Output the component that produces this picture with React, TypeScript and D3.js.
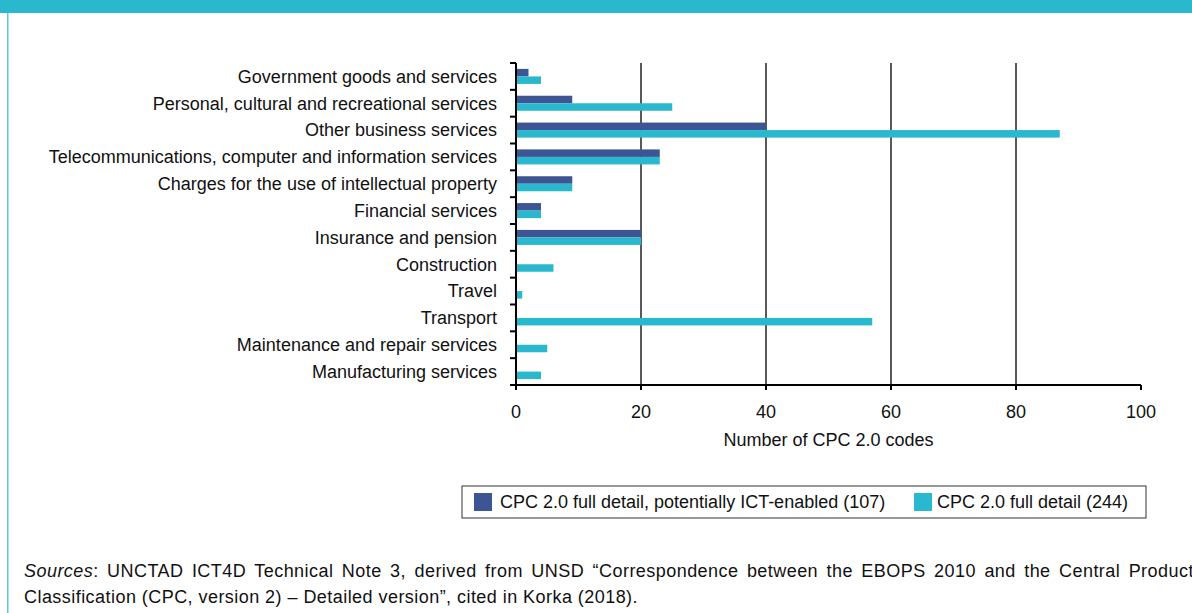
import React from 'react';
import * as d3 from 'd3';

// Service categories, top to bottom as drawn
const categories = [
  'Government goods and services',
  'Personal, cultural and recreational services',
  'Other business services',
  'Telecommunications, computer and information services',
  'Charges for the use of intellectual property',
  'Financial services',
  'Insurance and pension',
  'Construction',
  'Travel',
  'Transport',
  'Maintenance and repair services',
  'Manufacturing services',
];

// CPC 2.0 full detail, potentially ICT-enabled (107)
const ictEnabled = [2, 9, 40, 23, 9, 4, 20, 0, 0, 0, 0, 0];
// CPC 2.0 full detail (244)
const fullDetail = [4, 25, 87, 23, 9, 4, 20, 6, 1, 57, 5, 4];

const xTicks = [0, 20, 40, 60, 80, 100];
const gridValues = [20, 40, 60, 80];

const seriesNames = [
  'CPC 2.0 full detail, potentially ICT-enabled (107)',
  'CPC 2.0 full detail (244)',
];

const DARK = '#3d5592';
const TEAL = '#2ab8ce';
const FONT = '"Liberation Sans", Arial, Helvetica, sans-serif';

const W = 1192;
const H = 613;

export default function App() {
  const x = d3.scaleLinear().domain([0, 100]).range([516, 1141]);
  const y = d3
    .scaleBand<string>()
    .domain(categories)
    .range([63, 385])
    .paddingInner(0.44)
    .paddingOuter(0.22);

  const step = y.step();
  const barH = y.bandwidth() / 2;
  const top = 63;
  const bottom = 385;

  return (
    <div style={{ width: W, height: H }}>
      <style>{`body{margin:0}`}</style>
      <svg width={W} height={H} style={{ display: 'block', fontFamily: FONT }}>
        <rect x={0} y={0} width={W} height={H} fill="#fff" />
        {/* frame */}
        <rect x={0} y={0} width={W} height={13} fill={TEAL} />
        <rect x={7} y={13} width={1.5} height={H - 13} fill="#5cc7d8" />

        {/* grid lines */}
        {gridValues.map((v) => (
          <line key={v} x1={x(v)} x2={x(v)} y1={top} y2={bottom} stroke="#222" strokeWidth={1.5} />
        ))}

        {/* bars */}
        {categories.map((c, i) => (
          <g key={c}>
            {ictEnabled[i] > 0 && (
              <rect x={x(0)} y={y(c)!} width={x(ictEnabled[i]) - x(0)} height={barH} fill={DARK} />
            )}
            {fullDetail[i] > 0 && (
              <rect x={x(0)} y={y(c)! + barH} width={x(fullDetail[i]) - x(0)} height={barH} fill={TEAL} />
            )}
          </g>
        ))}

        {/* y axis */}
        <line x1={x(0)} x2={x(0)} y1={top} y2={bottom + 5} stroke="#000" strokeWidth={2} />
        {d3.range(categories.length + 1).map((i) => (
          <line key={i} x1={x(0) - 6} x2={x(0)} y1={top + i * step} y2={top + i * step} stroke="#000" strokeWidth={2} />
        ))}
        {categories.map((c) => (
          <text
            key={c}
            x={497}
            y={y(c)! + y.bandwidth() / 2}
            dy="0.35em"
            textAnchor="end"
            fontSize={18}
            fill="#111"
          >
            {c}
          </text>
        ))}

        {/* x axis */}
        <line x1={x(0) - 6} x2={x(100)} y1={bottom} y2={bottom} stroke="#000" strokeWidth={2} />
        {xTicks.map((t) => (
          <g key={t}>
            <line x1={x(t)} x2={x(t)} y1={bottom} y2={bottom + 5} stroke="#000" strokeWidth={2} />
            <text x={x(t)} y={418} textAnchor="middle" fontSize={18} fill="#111">
              {t}
            </text>
          </g>
        ))}
        <text x={(x(0) + x(100)) / 2} y={446} textAnchor="middle" fontSize={18} fill="#111">
          Number of CPC 2.0 codes
        </text>

        {/* legend */}
        <rect x={462} y={486} width={684} height={32} fill="#fff" stroke="#333" strokeWidth={1} />
        <rect x={474} y={493} width={18} height={18} fill={DARK} />
        <text x={500} y={508} fontSize={18} fill="#111">{seriesNames[0]}</text>
        <rect x={914} y={493} width={18} height={18} fill={TEAL} />
        <text x={937} y={508} fontSize={18} fill="#111">{seriesNames[1]}</text>

        {/* sources (first line justified, runs to the edge) */}
        <text x={24} y={577} fontSize={18} letterSpacing={0.45} wordSpacing={3} fill="#111">
          <tspan fontStyle="italic">Sources</tspan>
          <tspan>: UNCTAD ICT4D Technical Note 3, derived from UNSD “Correspondence between the EBOPS 2010 and the Central Product</tspan>
        </text>
        <text x={24} y={603} fontSize={18} letterSpacing={0.45} fill="#111">
          Classification (CPC, version 2) – Detailed version”, cited in Korka (2018).
        </text>
      </svg>
    </div>
  );
}
